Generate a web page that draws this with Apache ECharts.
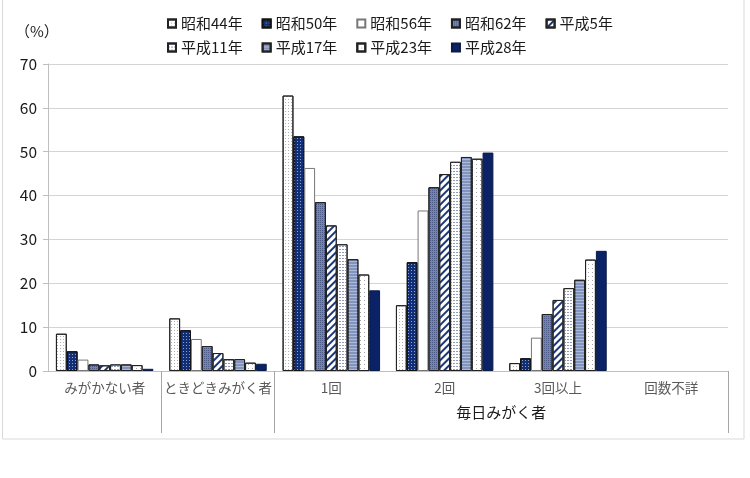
<!DOCTYPE html>
<html><head><meta charset="utf-8">
<script src="https://cdn.jsdelivr.net/npm/echarts@6/dist/echarts.min.js"></script>
<style>html,body{margin:0;padding:0;background:#fff}#c{width:750px;height:478px}</style>
</head><body><div id="c"></div>
<script>
const categories = ['みがかない者','ときどきみがく者','1回','2回','3回以上','回数不詳'];
const groupLabel = '毎日みがく者';
const seriesNames = ['昭和44年','昭和50年','昭和56年','昭和62年','平成5年','平成11年','平成17年','平成23年','平成28年'];
const s44 = [8.5, 12.0, 62.8, 15.0, 1.8, null];
const s50 = [4.5, 9.3, 53.5, 24.8, 2.9, null];
const s56 = [2.6, 7.3, 46.3, 36.6, 7.6, null];
const s62 = [1.5, 5.7, 38.5, 41.9, 13.0, null];
const h5  = [1.3, 4.1, 33.2, 44.9, 16.2, null];
const h11 = [1.5, 2.7, 28.9, 47.7, 18.9, null];
const h17 = [1.5, 2.7, 25.5, 48.8, 20.8, null];
const h23 = [1.35, 1.9, 22.0, 48.4, 25.4, null];
const h28 = [0.5, 1.65, 18.4, 49.8, 27.4, null];
const values = [s44, s50, s56, s62, h5, h11, h17, h23, h28];

const FONT = '"Noto Sans CJK JP","Noto Sans",sans-serif';
const styles = [
  {color:'#ffffff', borderColor:'#222', decal:{symbol:'rect',symbolSize:1,color:'#b0b0b0',dashArrayX:[1,2],dashArrayY:[1,2]}},
  {color:'#112f78', borderColor:'#111', decal:{symbol:'rect',symbolSize:1,color:'rgba(255,255,255,0.55)',dashArrayX:[1,2],dashArrayY:[1,2]}},
  {color:'#ffffff', borderColor:'#777'},
  {color:'#7284b4', borderColor:'#222', decal:{symbol:'rect',symbolSize:1,color:'rgba(30,40,80,0.45)',dashArrayX:[1,1],dashArrayY:[1,1]}},
  {color:'#ffffff', borderColor:'#222', decal:{symbol:'rect',symbolSize:1,color:'#1c3775',dashArrayX:[1,0],dashArrayY:[2,3],rotation:-Math.PI/4}},
  {color:'#ffffff', borderColor:'#222', decal:{symbol:'rect',symbolSize:1,color:'#8f9bb8',dashArrayX:[2,1],dashArrayY:[1,2]}},
  {color:'#8193bf', borderColor:'#222', decal:{symbol:'rect',symbolSize:1,color:'rgba(255,255,255,0.35)',dashArrayX:[1,0],dashArrayY:[1,2]}},
  {color:'#ffffff', borderColor:'#222', decal:{symbol:'rect',symbolSize:1,color:'#a8a8a8',dashArrayX:[1,3],dashArrayY:[1,3]}},
  {color:'#0b2266', borderColor:'#0b1a44'}
];

const chart = echarts.init(document.getElementById('c'));
const legendCommon = {
  icon:'rect', itemWidth:8, itemHeight:8, itemGap:19,
  textStyle:{fontSize:15, color:'#1a1a1a', fontFamily:FONT},
  selectedMode:false
};
chart.setOption({
  animation:false,
  textStyle:{fontFamily:FONT},
  graphic:[{type:'rect', shape:{x:2.5, y:-2, width:741.5, height:441}, style:{fill:'none', stroke:'#d9d9d9', lineWidth:1}, silent:true}],
  title:{text:'（%）', left:10, top:19, textStyle:{fontSize:15, fontWeight:'normal', color:'#222', fontFamily:FONT}},
  legend:[
    Object.assign({data:seriesNames.slice(0,5), left:162, top:11}, legendCommon),
    Object.assign({data:seriesNames.slice(5), left:162, top:35}, legendCommon)
  ],
  grid:{left:48, right:22, top:64, bottom:107, containLabel:false},
  xAxis:[
    {type:'category', data:categories, position:'bottom',
     axisLine:{lineStyle:{color:'#bfbfbf'}},
     axisTick:{length:5, lineStyle:{color:'#bfbfbf'}},
     axisLabel:{fontSize:13.5, color:'#595959', margin:10, interval:0}},
    {type:'value', min:0, max:6, position:'bottom',
     axisLine:{show:false}, splitLine:{show:false},
     axisTick:{show:true, customValues:[1,2,6], length:62, lineStyle:{color:'#a6a6a6'}},
     axisLabel:{customValues:[4], formatter:function(){return groupLabel;}, fontSize:15, color:'#1a1a1a', margin:34}}
  ],
  yAxis:{type:'value', min:0, max:70, interval:10,
    axisLine:{show:true, lineStyle:{color:'#bfbfbf'}},
    axisTick:{show:true, length:5, lineStyle:{color:'#bfbfbf'}},
    splitLine:{lineStyle:{color:'#d4d4d4'}},
    axisLabel:{fontSize:15.5, color:'#1a1a1a', margin:11}},
  series: seriesNames.map(function(n,i){
    return {name:n, type:'bar', xAxisIndex:0, data:values[i], barGap:'0%', barCategoryGap:'14%',
      itemStyle:Object.assign({borderWidth:1}, styles[i])};
  })
});
</script></body></html>
